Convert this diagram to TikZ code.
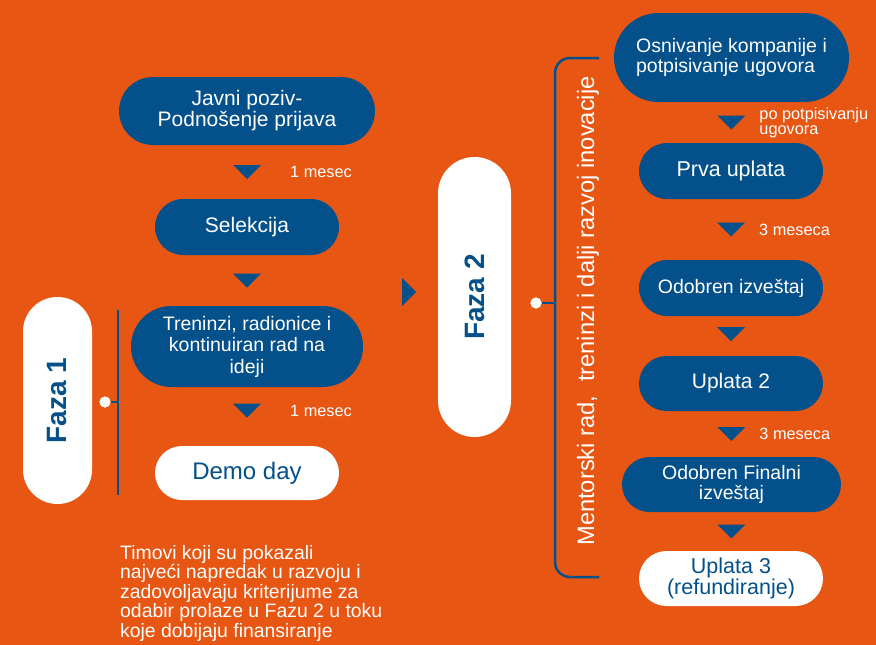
\documentclass[tikz,border=0pt]{standalone}
\usepackage{fontspec}
\setmainfont{Liberation Sans}
\usepackage{tikz}
\usetikzlibrary{positioning,calc}

\definecolor{bgorange}{HTML}{E85613}
\definecolor{fazablue}{HTML}{03508A}

\tikzset{
  pill/.style 2 args={minimum width=#1, minimum height=#2, rounded corners=#2/2, inner sep=0pt, align=center},
  bluebox/.style={fill=fazablue, text=white},
  whitebox/.style={fill=white, text=fazablue},
  note/.style={text=white, inner sep=0pt, align=left, font=\fontsize{16.3}{15}\selectfont},
  bracket/.style={draw=fazablue, line width=2.5pt},
  dot/.style={circle, fill=white, inner sep=0pt, minimum size=11pt},
}
\newcommand{\downmark}[1]{\fill[fazablue] (#1) ++(-14,-7) -- ++(28,0) -- ++(-14,14) -- cycle;}

\begin{document}
\begin{tikzpicture}[x=1pt, y=-1pt]
    \useasboundingbox (0,0) rectangle (876,645);
    \fill[bgorange] (0,0) rectangle (876,645);

    % faza 1
    \node[pill={256pt}{68pt}, bluebox, font=\fontsize{21}{21}\selectfont] (javni) at (247,111) {Javni poziv-\\Podnošenje prijava};
    \node[pill={184pt}{56pt}, bluebox, font=\fontsize{21}{21}\selectfont] (selekcija) at (247,227) {Selekcija};
    \node[pill={232pt}{81pt}, bluebox, font=\fontsize{19.5}{21.5}\selectfont] (treninzi) at (247,346.5) {Treninzi, radionice i\\kontinuiran rad na\\ideji};
    \node[pill={184pt}{54pt}, whitebox, font=\fontsize{24}{24}\selectfont] (demo) at (247,473) {Demo day};
    \node[pill={207pt}{69pt}, whitebox, rotate=90, font=\fontsize{28}{28}\selectfont\bfseries] (faza1) at (57.5,400.5) {Faza 1};

    \coordinate (t1) at ($(javni.south)!0.5!(selekcija.north)$);
    \coordinate (t2) at ($(selekcija.south)!0.5!(treninzi.north)$);
    \coordinate (t3) at ($(treninzi.south)!0.4!(demo.north)$);
    \downmark{t1} \downmark{t2} \downmark{t3}
    \node[note, right=43pt of t1] (m1) {1 mesec};
    \node[note, right=43pt of t3] (m3) {1 mesec};

    \node[dot] (d1) at (105,402) {};
    \coordinate (l1top) at (118,310);
    \coordinate (l1bot) at (118,495);
    \draw[bracket] (l1top) -- (l1bot);
    \draw[bracket] (d1) -- (d1 -| l1top);
    \node[dot] at (d1) {};

    \node[anchor=north west, text=white, inner sep=0pt, align=left, font=\fontsize{19.4}{19.5}\selectfont] (opis) at (120,545)
      {Timovi koji su pokazali\\najveći napredak u razvoju i\\zadovoljavaju kriterijume za\\odabir prolaze u Fazu 2 u toku\\koje dobijaju finansiranje};

    % faza 2
    \coordinate (tm) at (402,292);
    \fill[fazablue] (tm) ++(0,-14) -- ++(14,14) -- ++(-14,14) -- cycle;
    \node[pill={280pt}{73pt}, whitebox, rotate=90, font=\fontsize{28}{28}\selectfont\bfseries] (faza2) at (474.5,297) {Faza 2};

    \node[dot] (d2) at (536,303) {};
    \coordinate (r2top) at (599,58);
    \coordinate (r2bot) at (599,577);
    \draw[bracket, rounded corners=15pt] (r2top) -- ++(-44,0) -- ($(r2bot)+(-44,0)$) -- (r2bot);
    \draw[bracket] (d2) -- ++(19,0);
    \node[dot] at (d2) {};
    \node[text=white, inner sep=0pt, rotate=90, font=\fontsize{23.7}{24}\selectfont] (mentor) at (588,311)
      {Mentorski rad,\hspace{0.3em} treninzi i dalji razvoj inovacije};

    \node[pill={235pt}{89pt}, bluebox, align=left, font=\fontsize{19.5}{20}\selectfont] (osnivanje) at (731.5,57.5) {Osnivanje kompanije i\\potpisivanje ugovora};
    \node[pill={184pt}{56pt}, bluebox, font=\fontsize{21.5}{21.5}\selectfont] (prva) at (731,171) {Prva uplata};
    \node[pill={184pt}{56pt}, bluebox, font=\fontsize{19.5}{20}\selectfont] (odobren) at (731,288) {Odobren izveštaj};
    \node[pill={184pt}{55pt}, bluebox, font=\fontsize{21}{21}\selectfont] (uplata2) at (731,383.5) {Uplata 2};
    \node[pill={219pt}{55pt}, bluebox, font=\fontsize{19.5}{20}\selectfont] (finalni) at (731.5,484.5) {Odobren Finalni\\izveštaj};
    \node[pill={184pt}{55pt}, whitebox, font=\fontsize{21.5}{21}\selectfont] (uplata3) at (731,578.5) {Uplata 3\\(refundiranje)};

    \coordinate (s1) at ($(osnivanje.south)!0.5!(prva.north)$);
    \coordinate (s2) at ($(prva.south)!0.5!(odobren.north)$);
    \coordinate (s3) at ($(odobren.south)!0.45!(uplata2.north)$);
    \coordinate (s4) at ($(uplata2.south)!0.5!(finalni.north)$);
    \coordinate (s5) at ($(finalni.south)!0.5!(uplata3.north)$);
    \downmark{s1} \downmark{s2} \downmark{s3} \downmark{s4} \downmark{s5}
    \node[note, right=28pt of s1] (n1) {po potpisivanju\\ugovora};
    \node[note, right=28pt of s2] (n2) {3 meseca};
    \node[note, right=28pt of s4] (n4) {3 meseca};
\end{tikzpicture}
\end{document}
